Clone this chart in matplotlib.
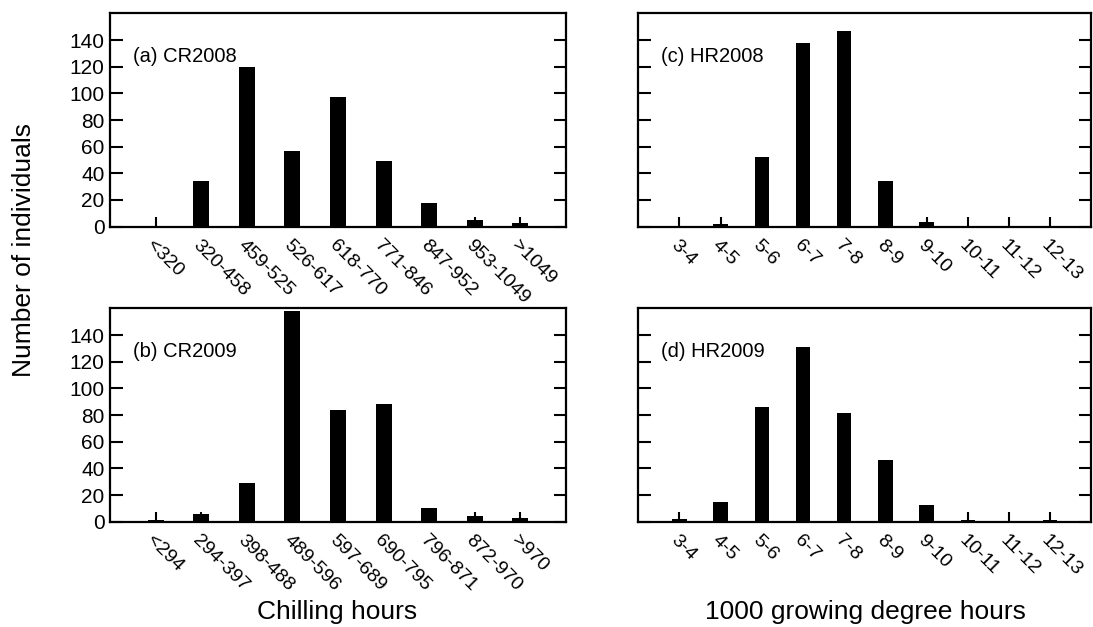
import numpy as np
import matplotlib
matplotlib.use("Agg")
import matplotlib.pyplot as plt

plt.rcParams['font.family'] = ['Liberation Sans', 'DejaVu Sans']

# chilling hour classes
cr08_labels = ['<320', '320-458', '459-525', '526-617', '618-770', '771-846', '847-952', '953-1049', '>1049']
cr08_counts = [0, 34, 120, 57, 97, 49, 18, 5, 3]

cr09_labels = ['<294', '294-397', '398-488', '489-596', '597-689', '690-795', '796-871', '872-970', '>970']
cr09_counts = [1.5, 5.5, 29, 158, 84, 88, 10.5, 4.5, 2.5]

# 1000 growing degree hours classes
hr_labels = ['3-4', '4-5', '5-6', '6-7', '7-8', '8-9', '9-10', '10-11', '11-12', '12-13']
hr08_counts = [0, 2, 52, 138, 147, 34, 3.5, 0, 0, 0]
hr09_counts = [2, 14.5, 86, 131, 81.5, 46.5, 12.5, 1.2, 0, 1.2]

fig = plt.figure(figsize=(10.93, 6.27), dpi=100)

pos = {
    'a': [0.1006, 0.6385, 0.4172, 0.3402],
    'b': [0.1006, 0.1680, 0.4172, 0.3402],
    'c': [0.5840, 0.6385, 0.4145, 0.3402],
    'd': [0.5840, 0.1680, 0.4145, 0.3402],
}

panels = [
    ('a', '(a) CR2008', cr08_labels, cr08_counts, True),
    ('b', '(b) CR2009', cr09_labels, cr09_counts, True),
    ('c', '(c) HR2008', hr_labels, hr08_counts, False),
    ('d', '(d) HR2009', hr_labels, hr09_counts, False),
]

for key, title, labels, counts, show_y in panels:
    ax = fig.add_axes(pos[key])
    x = np.arange(len(labels))
    ax.bar(x, counts, width=0.35, color='black', zorder=3)
    ax.set_xlim(-1, len(labels))
    ax.set_ylim(0, 160)
    ax.set_yticks(np.arange(0, 141, 20))
    ax.set_xticks(x)
    ax.set_xticklabels(labels, rotation=-45, ha='left', va='top',
                       rotation_mode='anchor', fontsize=14)
    ax.tick_params(axis='x', direction='in', length=7, width=1.5, pad=7, top=False)
    ax.tick_params(axis='y', direction='in', length=9, width=1.5, right=True,
                   labelsize=15, pad=4)
    if not show_y:
        ax.set_yticklabels([])
    for s in ax.spines.values():
        s.set_linewidth(1.6)
    ax.text(0.05, 0.80, title, transform=ax.transAxes, fontsize=14.5,
            ha='left', va='center')

fig.text(0.308, 0.024, 'Chilling hours', fontsize=19, ha='center', va='center')
fig.text(0.792, 0.024, '1000 growing degree hours', fontsize=19, ha='center', va='center')
fig.text(0.022, 0.601, 'Number of individuals', fontsize=19, rotation=90,
         ha='center', va='center')

fig.savefig('out.png', dpi=100)
